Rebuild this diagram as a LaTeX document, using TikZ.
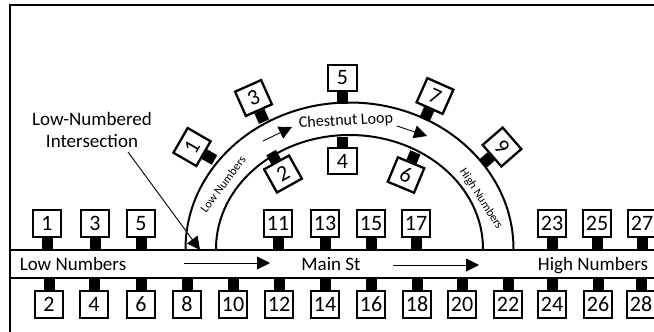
\documentclass[tikz,border=0pt]{standalone}
\usepackage{fontspec}
\setmainfont{Carlito}
\usetikzlibrary{calc,arrows.meta}

\begin{document}
\begin{tikzpicture}[x=1pt,y=-1pt]
    \tikzstyle{street} = [line width=2pt,draw=black]
    \tikzstyle{lot}    = [draw=black,line width=2.3pt,fill=white,minimum width=28.5pt,minimum height=26.5pt,inner sep=0pt,font=\fontsize{22}{22}\selectfont]
    \tikzstyle{stem}   = [line width=11pt,draw=black]
    \tikzstyle{dedge}  = [line width=0.9pt,-{Triangle[length=13pt,width=13pt]},draw=black]
    \tikzstyle{label}  = [font=\fontsize{19}{22}\selectfont,inner sep=0pt]
    \tikzstyle{small}  = [font=\fontsize{12}{12}\selectfont,inner sep=0pt]

    \useasboundingbox (0,0) rectangle (654,332);
    \draw[line width=2.2pt] (10,332) -- (10,5) -- (654,5);

    % main street
    \coordinate (sw) at (11,249.5);
    \coordinate (se) at (654,249.5);
    \coordinate (nw) at (11,278);
    \coordinate (ne) at (654,278);
    \draw[street] (sw) -- (se);
    \draw[street] (nw) -- (ne);

    % loop
    \coordinate (oa) at (185.5,249);
    \coordinate (ia) at (216,249);
    \draw[street] (oa) arc[start angle=180,end angle=0,x radius=164,y radius=-146.5];
    \draw[street] (ia) arc[start angle=180,end angle=0,x radius=133.5,y radius=-114];

    % odd side
    \foreach \lotnum/\xx in {1/47,3/95,5/141,11/278,13/325,15/371,17/416,23/552,25/597,27/642} {
      \node[lot] (t\lotnum) at (\xx,223.5) {\lotnum};
      \coordinate (a\lotnum) at (\xx,249);
      \draw[stem] (t\lotnum.south) -- (a\lotnum);
    }
    % even side
    \foreach \lotnum/\xx in {2/49,4/94,6/141,8/187,10/233,12/279,14/325,16/371,18/417,20/462,22/508,24/552,26/598,28/641} {
      \node[lot] (b\lotnum) at (\xx,304.5) {\lotnum};
      \coordinate (a\lotnum) at (\xx,278);
      \draw[stem] (b\lotnum.north) -- (a\lotnum);
    }

    % lots on the loop
    \foreach \lotnum/\xx/\yy/\rot in {1/192/147/60,3/253.5/98/24,5/342.5/78/0,7/435/96/-24,9/502/147/-49} {
      \node[lot,rotate=\rot] (l\lotnum) at (\xx,\yy) {\lotnum};
      \coordinate (c\lotnum) at ($(l\lotnum.center)!1.8!(l\lotnum.south)$);
      \draw[stem] (l\lotnum.south) -- (c\lotnum);
    }
    \foreach \lotnum/\xx/\yy/\rot in {2/283/174/29,4/342.5/161/0,6/406/175/-22.5} {
      \node[lot,rotate=\rot] (l\lotnum) at (\xx,\yy) {\lotnum};
      \coordinate (c\lotnum) at ($(l\lotnum.center)!1.7!(l\lotnum.north)$);
      \draw[stem] (l\lotnum.north) -- (c\lotnum);
    }

    % street names
    \node[label,anchor=base] (low) at (73,270) {Low Numbers};
    \node[label,anchor=base] (main) at (331,270) {Main St};
    \node[label,anchor=base] (high) at (593,270) {High Numbers};
    \node[label,font=\fontsize{16}{16}\selectfont,rotate=3] (chestnut) at (346,121) {Chestnut Loop};
    \node[small,rotate=53] (lown) at (223,184) {Low Numbers};
    \node[small,rotate=-57] (highn) at (481,199) {High Numbers};

    % directions
    \coordinate (d1a) at (184,263);
    \coordinate (d1b) at (270,263);
    \coordinate (d2a) at (393,265);
    \coordinate (d2b) at (479,265);
    \coordinate (d3a) at (263,141);
    \coordinate (d3b) at (292,127);
    \coordinate (d4a) at (397,126);
    \coordinate (d4b) at (427,136);
    \draw[dedge] (d1a) -- (d1b);
    \draw[dedge] (d2a) -- (d2b);
    \draw[dedge] (d3a) -- (d3b);
    \draw[dedge] (d4a) -- (d4b);

    % callout
    \node[label,align=center] (lni) at (92,130) {Low-Numbered\\Intersection};
    \coordinate (lnifrom) at (128,152);
    \coordinate (lnitip) at (200,250);
    \draw[dedge] (lnifrom) -- (lnitip);
\end{tikzpicture}
\end{document}
